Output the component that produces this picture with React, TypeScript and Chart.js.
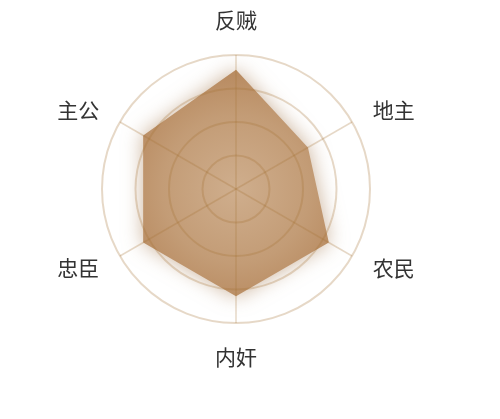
import React, { useRef, useEffect } from 'react';
import { Chart, ChartConfiguration, Plugin, registerables } from 'chart.js';

Chart.register(...registerables);

// roles around the radar, clockwise from the top
const roles = ['反贼', '地主', '农民', '内奸', '忠臣', '主公'];
const scores = [89, 62, 80, 80, 80, 80];
const scaleMax = 100;
const scaleStep = 25;

// darker tan at low alpha: light on white, slightly darker than the area fill
const gridColor = 'rgba(165, 115, 55, 0.28)';

// soft brown glow around the filled area
const areaGlow: Plugin<'radar'> = {
  id: 'areaGlow',
  beforeDatasetsDraw(chart) {
    const ctx = chart.ctx;
    ctx.save();
    ctx.shadowColor = 'rgba(150, 100, 50, 0.5)';
    ctx.shadowBlur = 20;
  },
  afterDatasetsDraw(chart) {
    chart.ctx.restore();
  },
};

// axis names, placed like the original (centered on the diagonals)
const roleLabels: Plugin<'radar'> = {
  id: 'roleLabels',
  afterDraw(chart) {
    const scale = chart.scales.r as any;
    const ctx = chart.ctx;
    ctx.save();
    ctx.font = '21px "Noto Sans CJK SC", sans-serif';
    ctx.fillStyle = '#333';
    roles.forEach((name, i) => {
      const p = scale.getPointPosition(i, scale.drawingArea + 24);
      const dx = p.x - scale.xCenter;
      if (Math.abs(dx) < 1) {
        ctx.textAlign = 'center';
        ctx.textBaseline = p.y < scale.yCenter ? 'bottom' : 'top';
      } else {
        ctx.textAlign = dx > 0 ? 'left' : 'right';
        ctx.textBaseline = 'middle';
      }
      ctx.fillText(name, p.x, p.y);
    });
    ctx.restore();
  },
};

const RoleRadar: React.FC = () => {
  const chartRef = useRef<HTMLCanvasElement | null>(null);
  const chartInstance = useRef<Chart | null>(null);

  useEffect(() => {
    if (chartInstance.current) {
      chartInstance.current.destroy();
      chartInstance.current = null;
    }

    const config: ChartConfiguration<'radar'> = {
      type: 'radar',
      data: {
        labels: roles,
        datasets: [
          {
            label: '身份',
            data: scores,
            fill: true,
            borderWidth: 0,
            pointRadius: 0,
            backgroundColor: (context) => {
              const chart = context.chart;
              const scale = chart.scales.r as any;
              if (!scale || !chart.chartArea) return '#bb8f64';
              const g = chart.ctx.createRadialGradient(
                scale.xCenter, scale.yCenter, 0,
                scale.xCenter, scale.yCenter, scale.drawingArea * 0.85
              );
              g.addColorStop(0, '#cfae8d');
              g.addColorStop(0.65, '#c39c76');
              g.addColorStop(1, '#b98c62');
              return g;
            },
          },
        ],
      },
      options: {
        animation: false,
        responsive: true,
        maintainAspectRatio: false,
        layout: {
          padding: { left: 102, right: 130, top: 55, bottom: 96 },
        },
        plugins: {
          legend: { display: false },
          tooltip: { enabled: false },
        },
        scales: {
          r: {
            min: 0,
            max: scaleMax,
            ticks: { display: false, stepSize: scaleStep },
            // grid on top of the area, as in the original
            grid: { z: 1, circular: true, color: gridColor, lineWidth: 2 },
            angleLines: { color: gridColor, lineWidth: 1.5 },
            pointLabels: { display: false },
          },
        },
      },
      plugins: [areaGlow, roleLabels],
    };

    if (chartRef.current) {
      const ctx = chartRef.current.getContext('2d');
      if (ctx) {
        chartInstance.current = new Chart(ctx, config);
      }
    }

    return () => {
      if (chartInstance.current) {
        chartInstance.current.destroy();
        chartInstance.current = null;
      }
    };
  }, []);

  return (
    <div style={{ position: 'fixed', left: 0, top: 0, width: 500, height: 419, background: '#fff' }}>
      <canvas ref={chartRef} />
    </div>
  );
};

export default function App() {
  return <RoleRadar />;
}
